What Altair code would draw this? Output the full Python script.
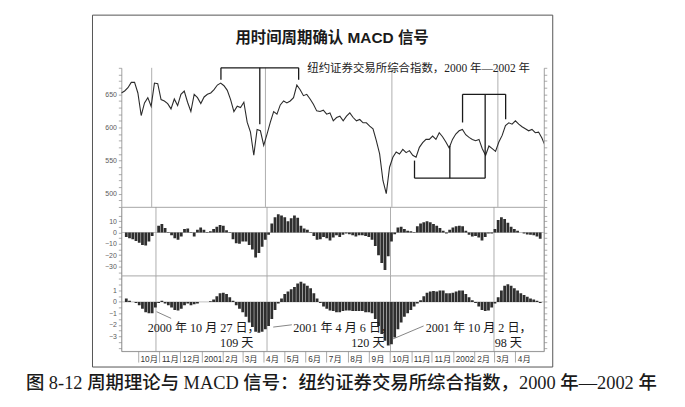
import json
import altair as alt
import pandas as pd

# ---------------- data ----------------
# NYSE composite index (sampled evenly from 2000-09-14 to 2002-05-07)
price = [652, 655, 660, 668, 668, 652, 618, 637, 645, 632,
         667, 666, 642, 640, 636, 628, 643, 633, 650, 655,
         638, 624, 650, 645, 636, 646, 650, 652, 657, 664,
         667, 663, 656, 642, 624, 632, 630, 638, 608, 593,
         558, 597, 595, 573, 590, 608, 624, 620, 634, 640,
         637, 640, 645, 664, 657, 648, 650, 643, 635, 625,
         624, 626, 620, 622, 610, 615, 617, 610, 617, 622,
         615, 610, 612, 607, 607, 602, 598, 580, 560, 520,
         500, 540, 555, 563, 560, 567, 562, 565, 558, 555,
         570, 577, 582, 582, 587, 582, 592, 586, 578, 569,
         582, 590, 595, 597, 589, 585, 582, 580, 582, 568,
         558, 572, 568, 564, 578, 588, 603, 607, 605, 610,
         605, 601, 598, 595, 597, 592, 593, 584, 572]

# MACD histogram (middle panel)
macd_hist = [-4, -5, -6, -7.5, -9, -11, -11.5, -8, -3, 0,
             6, 7.5, 4, -0.5, -2.5, -5, -6.5, -3.5, 3, 3.5,
             -0.5, -3.5, 2.5, 4.5, 2.5, 0.5, 1, 3, 5, 6.5,
             6, 2, -0.5, -6, -9.5, -10, -8, -8, -11, -15,
             -22, -18, -12.5, -6.5, -2, 8, 13.5, 16, 15, 13.5,
             10, 12.5, 15, 13, 6, 3.5, 2.5, 0.5, -3, -6.5,
             -6, -4, -5, -7, -4.5, -2.5, -4, -2, -1, -1.5,
             -2.5, -3.5, -2.5, -2.5, -3, -4, -6.5, -12, -20, -27,
             -33, -21, -8, -1.5, 4.5, 5, 3, 1.5, 1, 0.5,
             5.5, 8, 9, 10, 9, 7.5, 6, 4, 1.5, -1,
             2.5, 4.5, 5.5, 6, 5.5, 1.5, -2, -3.5, -3, -4.5,
             -7, -4, -1, -1, 3, 11, 13.5, 12, 8.5, 5,
             3, 1.5, 0, -1, -1.8, -2, -2.5, -3.5, -5.5]

# slower oscillator histogram (bottom panel)
osc_hist = [0.3, 0.1, 0, -0.1, -0.3, -0.6, -0.9, -1.0, -1.0, -0.5,
            -0.1, 0.1, -0.15, -0.3, -0.5, -0.7, -0.75, -0.6, -0.3, -0.15,
            -0.3, -0.2, -0.15, 0, 0, 0, 0.05, 0.2, 0.5, 0.75,
            0.8, 0.7, 0.4, 0.1, -0.3, -0.6, -0.9, -1.3, -1.8, -2.2,
            -2.6, -2.7, -2.6, -2.4, -2.1, -1.5, -0.7, -0.15, 0.3, 0.7,
            0.9, 1.1, 1.3, 1.6, 1.75, 1.6, 1.4, 1.2, 0.75, 0.3,
            -0.1, -0.4, -0.6, -0.75, -0.8, -0.9, -0.9, -0.8, -0.75, -0.75,
            -0.8, -0.8, -0.8, -0.8, -0.9, -0.9, -1.0, -1.5, -2.1, -2.8,
            -3.4, -3.8, -3.7, -3.1, -2.4, -1.8, -1.3, -1.0, -0.7, -0.4,
            -0.15, 0.15, 0.5, 0.8, 0.9, 0.95, 0.9, 1.0, 1.0, 0.75,
            0.75, 0.8, 0.9, 1.0, 1.0, 0.7, 0.4, 0.15, -0.1, -0.4,
            -0.7, -0.8, -0.75, -0.5, -0.15, 0.4, 1.0, 1.4, 1.55, 1.4,
            1.2, 1.0, 0.75, 0.6, 0.45, 0.3, 0.2, 0.1, -0.1]

series_start = "2000-09-14"
series_end = "2002-05-07"

# cycle lows (vertical lines)
cycle_dates = ["2000-10-27", "2001-04-06", "2001-10-02", "2002-03-01"]

# bracket segments on the price panel
br_d1 = ["2001-02-02", "2001-02-02", "2001-05-23", "2001-03-29",
         "2002-01-10", "2002-01-10", "2002-03-12", "2002-02-11",
         "2001-11-03", "2001-11-03", "2001-12-23"]
br_d2 = ["2001-05-23", "2001-02-02", "2001-05-23", "2001-03-29",
         "2002-03-12", "2002-01-10", "2002-03-12", "2002-02-11",
         "2002-02-11", "2001-11-03", "2001-12-23"]
br_v1 = [690, 690, 690, 690, 650, 650, 650, 650, 523.5, 550, 572.5]
br_v2 = [690, 672, 672, 605, 650, 607.5, 612.5, 523.5, 523.5, 523.5, 523.5]

# annotations on the bottom panel
ann_dates = ["2000-10-15", "2001-01-28", "2001-05-14", "2001-08-06", "2001-11-22", "2002-03-02"]
ann_values = [-2.3, -3.6, -2.3, -3.6, -2.3, -3.6]
ann_texts = ["2000 年 10 月 27 日，", "109 天", "2001 年 4 月 6 日，", "120 天",
             "2001 年 10 月 2 日，", "98 天"]
lead_d1 = ["2000-10-28", "2001-04-15", "2001-11-19"]
lead_d2 = ["2000-11-18", "2001-05-12", "2001-10-05"]
lead_v1 = [-0.86, -2.2, -2.1]
lead_v2 = [-1.44, -2.0, -3.25]

# month axis
month_starts = ["2000-10", "2000-11", "2000-12", "2001-01", "2001-02", "2001-03",
                "2001-04", "2001-05", "2001-06", "2001-07", "2001-08", "2001-09",
                "2001-10", "2001-11", "2001-12", "2002-01", "2002-02", "2002-03",
                "2002-04"]
month_labels = ["10月", "11月", "12月", "2001", "2月", "3月", "4月", "5月", "6月",
                "7月", "8月", "9月", "10月", "11月", "11月", "2002", "2月", "3月", "4月"]

TITLE = "用时间周期确认 MACD 信号"
SUBTITLE = "纽约证券交易所综合指数，2000 年—2002 年"
CAPTION = "图 8-12   周期理论与 MACD 信号：纽约证券交易所综合指数，2000 年—2002 年"

# ---------------- tables ----------------
dates = pd.date_range(series_start, series_end, periods=len(price))
price_df = pd.DataFrame({"date": dates, "value": price})
macd_df = pd.DataFrame({"date": dates, "value": macd_hist})
osc_df = pd.DataFrame({"date": dates, "value": osc_hist})
cyc_df = pd.DataFrame({"date": pd.to_datetime(cycle_dates)})
br_df = pd.DataFrame({"date": pd.to_datetime(br_d1), "d2": pd.to_datetime(br_d2),
                      "value": br_v1, "v2": br_v2})
ann_df = pd.DataFrame({"date": pd.to_datetime(ann_dates), "value": ann_values, "t": ann_texts})
lead_df = pd.DataFrame({"date": pd.to_datetime(lead_d1), "d2": pd.to_datetime(lead_d2),
                        "value": lead_v1, "v2": lead_v2})
zero_df = pd.DataFrame({"value": [0]})
one = pd.DataFrame({"a": [0]})

W = 425
x_domain = [alt.DateTime(year=2000, month=9, date=14), alt.DateTime(year=2002, month=5, date=5)]
XS = alt.Scale(domain=x_domain)
month_ticks = [alt.DateTime(year=int(s[:4]), month=int(s[5:7]), date=1) for s in month_starts]
label_expr = (json.dumps(month_labels, ensure_ascii=False)
              + "[(year(datum.value)-2000)*12+month(datum.value)-9]")

CJK_SERIF = "Liberation Serif, Noto Sans CJK SC"
CJK_SANS = "Liberation Sans, Noto Sans CJK SC"
AX_LABEL = "#5a5a5a"

# shared encodings per panel (identical in every layer so the axes merge)
X_TOP = alt.X("date:T", scale=XS,
              axis=alt.Axis(labels=False, ticks=False, title=None, domainColor="#999"))
X_MID = alt.X("date:T", scale=XS, axis=None)
X_BOT = alt.X("date:T", scale=XS,
              axis=alt.Axis(values=month_ticks, labelExpr=label_expr, labelAlign="left",
                            labelOffset=2, labelPadding=-8, tickSize=11, labelFontSize=8.3,
                            labelColor="#333", labelOverlap=False, labelFlush=False,
                            labelFont=CJK_SANS, title=None))

TOP_DOM = [480, 690]
top_vals = list(range(480, 691, 10))
Y_TOP = alt.Y("value:Q", scale=alt.Scale(domain=TOP_DOM, nice=False, zero=False),
              axis=alt.Axis(values=top_vals, title=None, labelColor=AX_LABEL,
                            labelExpr="datum.value % 50 === 0 ? datum.label : ''"))
MID_DOM = [-38, 22.5]
mid_vals = list(range(-35, 16, 5))
Y_MID = alt.Y("value:Q", scale=alt.Scale(domain=MID_DOM, nice=False, zero=False),
              axis=alt.Axis(values=mid_vals, title=None, labelColor=AX_LABEL,
                            labelExpr="datum.value % 10 === 0 ? format(datum.value, 'd') : ''"))
BOT_DOM = [-4.3, 2.3]
bot_vals = [v / 2 for v in range(-8, 5)]
Y_BOT = alt.Y("value:Q", scale=alt.Scale(domain=BOT_DOM, nice=False, zero=False),
              axis=alt.Axis(values=bot_vals, title=None, labelColor=AX_LABEL,
                            labelExpr="datum.value % 1 === 0 && datum.value > -4 && datum.value < 2 ? format(datum.value, 'd') : ''"))


def cycle_rules(xenc):
    return alt.Chart(cyc_df).mark_rule(color="#9a9a9a", strokeWidth=0.8).encode(x=xenc)


def right_axis(df, xenc, domain, values):
    return alt.Chart(df).mark_line(opacity=0).encode(
        x=xenc,
        y=alt.Y("value:Q", scale=alt.Scale(domain=domain, nice=False, zero=False),
                axis=alt.Axis(orient="right", values=values, labels=False, title=None)))


# ---------------- top panel ----------------
line = alt.Chart(price_df).mark_line(color="#2b2b2b", strokeWidth=1.1, clip=True).encode(
    x=X_TOP, y=Y_TOP)
brackets = alt.Chart(br_df).mark_rule(color="#1a1a1a", strokeWidth=1.3).encode(
    x=X_TOP, x2="d2:T", y=Y_TOP, y2="v2:Q")
title_txt = alt.Chart(pd.DataFrame({"t": [TITLE]})).mark_text(
    font=CJK_SANS, fontSize=15.5, fontWeight="bold", color="#1a1a1a", baseline="middle"
).encode(x=alt.value(212), y=alt.value(-30), text="t:N")
sub_txt = alt.Chart(pd.DataFrame({"t": [SUBTITLE]})).mark_text(
    font=CJK_SERIF, fontSize=11.5, color="#222", align="left", baseline="middle"
).encode(x=alt.value(187), y=alt.value(1), text="t:N")
frame = alt.Chart(one).mark_rect(fillOpacity=0, stroke="#555", strokeWidth=1).encode(
    x=alt.value(-29), x2=alt.value(434), y=alt.value(-53), y2=alt.value(301))
cap_txt = alt.Chart(pd.DataFrame({"t": [CAPTION]})).mark_text(
    font=CJK_SERIF, fontSize=18.5, fontWeight=500, color="#1a1a1a", align="left",
    baseline="middle"
).encode(x=alt.value(-96), y=alt.value(317), text="t:N")

top = alt.layer(
    alt.layer(cycle_rules(X_TOP), line, brackets, title_txt, sub_txt, frame, cap_txt),
    right_axis(price_df, X_TOP, TOP_DOM, top_vals),
).resolve_scale(y="independent").properties(
    width=W, height=140, view=alt.ViewBackground(stroke="transparent"))

# ---------------- middle panel ----------------
mid_bars = alt.Chart(macd_df).mark_bar(color="#2e2e2e", size=2.8, clip=True).encode(
    x=X_MID, y=Y_MID)
mid_zero = alt.Chart(zero_df).mark_rule(color="#999", strokeWidth=0.6).encode(y=Y_MID)
mid = alt.layer(
    alt.layer(cycle_rules(X_MID), mid_zero, mid_bars),
    right_axis(macd_df, X_MID, MID_DOM, mid_vals),
).resolve_scale(y="independent").properties(width=W, height=69)

# ---------------- bottom panel ----------------
bot_bars = alt.Chart(osc_df).mark_bar(color="#2e2e2e", size=2.8, clip=True).encode(
    x=X_BOT, y=Y_BOT)
bot_zero = alt.Chart(zero_df).mark_rule(color="#999", strokeWidth=0.6).encode(y=Y_BOT)
leaders = alt.Chart(lead_df).mark_rule(color="#666", strokeWidth=0.8).encode(
    x=X_BOT, x2="d2:T", y=Y_BOT, y2="v2:Q")
ann = alt.Chart(ann_df).mark_text(
    font=CJK_SERIF, fontSize=12.2, color="#1a1a1a", align="left", baseline="middle"
).encode(x=X_BOT, y=Y_BOT, text="t:N")
bot = alt.layer(
    alt.layer(cycle_rules(X_BOT), bot_zero, bot_bars, leaders, ann),
    right_axis(osc_df, X_BOT, BOT_DOM, bot_vals),
).resolve_scale(y="independent").properties(width=W, height=76)

chart = alt.vconcat(top, mid, bot, spacing=0, bounds="flush").properties(
    padding={"left": 17, "top": 5, "right": 10, "bottom": 6}
).configure_view(stroke="#bbb", strokeWidth=0.8).configure_axis(
    labelFont="Liberation Sans", labelFontSize=7, labelColor="#666", tickColor="#888",
    domainColor="#888", tickSize=3, tickWidth=0.7, domainWidth=0.8, grid=False,
    labelPadding=2)

chart.save("out.html", embed_options={"renderer": "svg", "actions": False})
